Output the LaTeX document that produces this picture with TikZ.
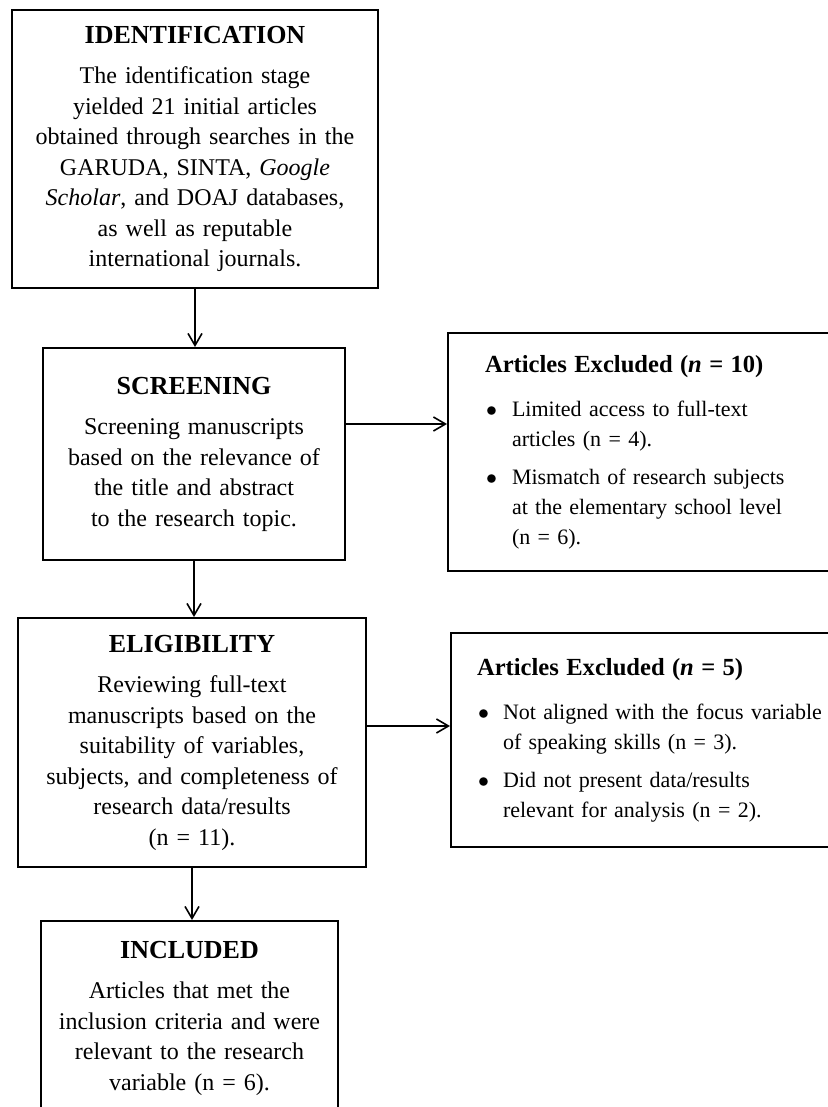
\documentclass[tikz,border=0pt]{standalone}
\usepackage{fontspec}
\setmainfont{Liberation Serif}
\usepackage{enumitem}
\usetikzlibrary{positioning}
\usetikzlibrary{arrows.meta}

\newcommand{\stagetitle}[1]{{\fontsize{13}{15}\selectfont\textbf{#1}}\\[5pt]}
\newcommand{\exctitle}[1]{{\fontsize{12.3}{15}\selectfont\textbf{#1}}\par}

\begin{document}
\begin{tikzpicture}[x=0.5pt, y=-0.5pt,
  stagebox/.style={draw, rectangle, line width=1pt, align=center, font=\fontsize{12}{15.25}\selectfont},
  excludebox/.style={draw, rectangle, line width=1pt, align=left, font=\fontsize{11}{15}\selectfont},
  flow/.style={-{Straight Barb[length=6pt, width=7pt]}, line width=0.8pt}]
\useasboundingbox (0,0) rectangle (828,1107);
\node at (195,149) [stagebox, name=Identification, minimum width=183pt, minimum height=139pt, text width=170pt]{\stagetitle{IDENTIFICATION}The identification stage\\ yielded 21 initial articles\\ obtained through searches in the\\ GARUDA, SINTA, \textit{Google}\\ \textit{Scholar}, and DOAJ databases,\\ as well as reputable\\ international journals.};
\node at (194,454) [stagebox, name=Screening, minimum width=151pt, minimum height=106pt, text width=140pt]{\stagetitle{SCREENING}Screening manuscripts\\ based on the relevance of\\ the title and abstract\\ to the research topic.};
\node at (192,742.5) [stagebox, name=Eligibility, minimum width=174pt, minimum height=124.5pt, text width=160pt]{\stagetitle{ELIGIBILITY}Reviewing full-text\\ manuscripts based on the\\ suitability of variables,\\ subjects, and completeness of\\ research data/results\\ (n = 11).};
\node at (189.5,1018) [stagebox, name=Included, minimum width=148.5pt, minimum height=97pt, text width=138pt]{\stagetitle{INCLUDED}Articles that met the\\ inclusion criteria and were\\ relevant to the research\\ variable (n = 6).};
% excluded records (boxes run past the right edge)
\node at (654,452) [excludebox, name=ExcludedA, minimum width=206pt, minimum height=119pt, text width=169pt]{\exctitle{Articles Excluded (\textit{n} = 10)}
\begin{itemize}[label=$\bullet$, leftmargin=13.5pt, labelsep=7.5pt, itemsep=4pt, parsep=0pt, topsep=7pt, partopsep=0pt]
\item Limited access to full-text\\ articles (n = 4).
\item Mismatch of research subjects\\ at the elementary school level\\ (n = 6).
\end{itemize}};
\node at (655.5,740) [excludebox, name=ExcludedB, minimum width=204.5pt, minimum height=107pt, text width=178.5pt]{\exctitle{Articles Excluded (\textit{n} = 5)}
\begin{itemize}[label=$\bullet$, leftmargin=13pt, labelsep=7pt, itemsep=4pt, parsep=0pt, topsep=7pt, partopsep=0pt]
\item Not aligned with the focus variable\\ of speaking skills (n = 3).
\item Did not present data/results\\ relevant for analysis (n = 2).
\end{itemize}};
\draw [flow] (Identification.south) -- (Identification.south |- Screening.north);
\draw [flow] (Screening.south) -- (Screening.south |- Eligibility.north);
\draw [flow] (Eligibility.south) -- (Eligibility.south |- Included.north);
\draw [flow] ([yshift=15pt]Screening.east) -- ([yshift=15pt]Screening.east -| ExcludedA.west);
\draw [flow] ([yshift=8.25pt]Eligibility.east) -- ([yshift=8.25pt]Eligibility.east -| ExcludedB.west);
\end{tikzpicture}
\end{document}
